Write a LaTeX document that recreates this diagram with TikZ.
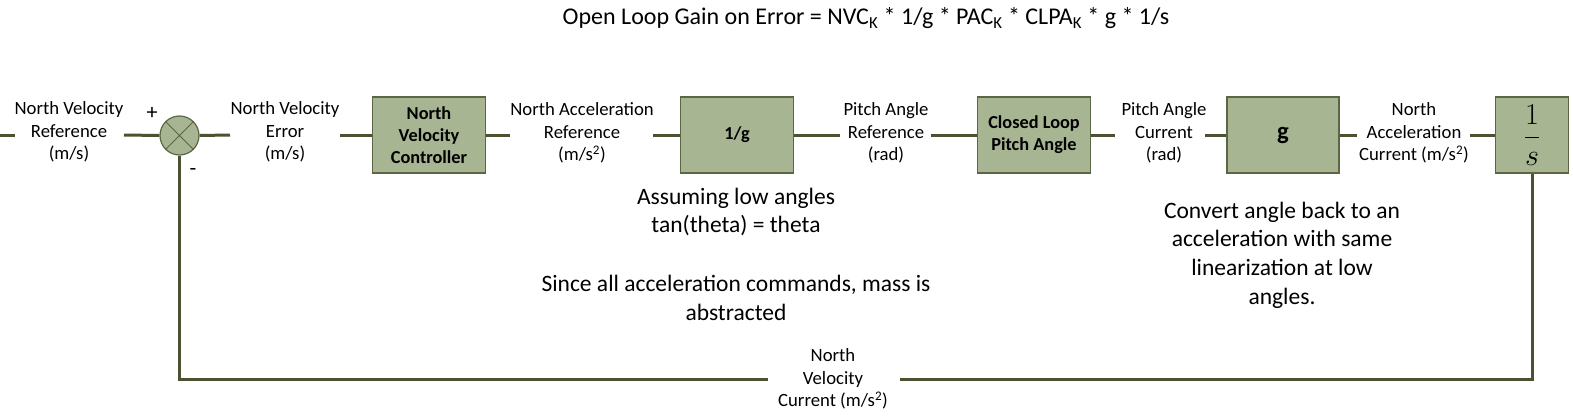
\documentclass[tikz,border=0pt]{standalone}
\usepackage{graphicx}
\usepackage{fontspec}
\setmainfont{Carlito}
\definecolor{wire}{HTML}{4B5232}
\definecolor{boxfill}{HTML}{A7B593}
\definecolor{boxline}{HTML}{5A6644}
\begin{document}
\begin{tikzpicture}[x=1pt,y=-1pt,
  wireline/.style={draw=wire,line width=3pt},
  blk/.style={draw=boxline,line width=1.2pt,fill=boxfill,minimum height=76pt,inner sep=0pt,align=center,
     font=\fontsize{18.3}{22}\selectfont\bfseries},
  lbl/.style={align=center,inner sep=0pt,font=\fontsize{18.7}{22.6}\selectfont},
  note/.style={align=center,inner sep=0pt,font=\fontsize{23.5}{28.7}\selectfont},
  sumnode/.style={circle,draw=boxline,line width=1.2pt,fill=boxfill,minimum size=39pt,inner sep=0pt}]
\useasboundingbox (0,0) rectangle (1573,415);
\node[font=\fontsize{24}{28}\selectfont,inner sep=0pt] (title) at (866,18)
  {Open Loop Gain on Error = NVC\textsubscript{K} * 1/g * PAC\textsubscript{K} * CLPA\textsubscript{K} * g * 1/s};
% blocks
\node[blk,minimum width=113pt] (nvc) at (429,135) {North\\Velocity\\Controller};
\node[blk,minimum width=113pt] (ig) at (737,135) {1/g};
\node[blk,minimum width=113pt] (clp) at (1034,135) {Closed Loop\\Pitch Angle};
\node[blk,minimum width=112pt] (g) at (1283,135) {\scalebox{1.35}{$\mathbf{g}$}};
\node[blk,minimum width=73pt] (is) at (1532,135) {\scalebox{1.75}{$\displaystyle\frac{1}{s}$}};
\node[sumnode] (sum) at (179.5,135.5) {};
\draw[boxline,line width=1pt] (sum.45) -- (sum.225) (sum.135) -- (sum.315);
\node[font=\fontsize{22}{26}\selectfont,inner sep=0pt] (plus) at (152,113) {+};
\node[font=\fontsize{22}{26}\selectfont,inner sep=0pt] (minus) at (193,172) {-};
% labels
\node[lbl] (l1) at (69,132) {North Velocity\\Reference\\(m/s)};
\node[lbl] (l2) at (285,132) {North Velocity\\Error\\(m/s)};
\node[lbl] (l3) at (582,133) {North Acceleration\\Reference\\(m/s\textsuperscript{2})};
\node[lbl] (l4) at (886,133) {Pitch Angle\\Reference\\(rad)};
\node[lbl] (l5) at (1164,133) {Pitch Angle\\Current\\(rad)};
\node[lbl] (l6) at (1414,133) {North\\Acceleration\\Current (m/s\textsuperscript{2})};
\node[lbl] (l7) at (833,379) {North\\Velocity\\Current (m/s\textsuperscript{2})};
% notes
\node[note] (n1) at (736,212) {Assuming low angles\\tan(theta) = theta};
\node[note] (n2) at (736,298) {Since all acceleration commands, mass is\\abstracted};
\node[note] (n3) at (1282,255) {Convert angle back to an\\acceleration with same\\linearization at low\\angles.};
% wires
\coordinate (start) at (0,135);
\coordinate (startend) at (15,135);
\draw[wireline] (start) -- (startend);
\coordinate (a1) at (124,135);
\draw[wireline] (a1) -- (sum.west);
\draw[wireline] (sum.east) -- (230,135) coordinate (a2);
\draw[wireline] (340,135) coordinate (a3) -- (nvc.west);
\draw[wireline] (nvc.east) -- (510,135) coordinate (a4);
\draw[wireline] (653,135) coordinate (a5) -- (ig.west);
\draw[wireline] (ig.east) -- (840,135) coordinate (a6);
\draw[wireline] (931,135) coordinate (a7) -- (clp.west);
\draw[wireline] (clp.east) -- (1115,135) coordinate (a8);
\draw[wireline] (1205,135) coordinate (a9) -- (g.west);
\draw[wireline] (g.east) -- (1357,135) coordinate (a10);
\draw[wireline] (1470,135) coordinate (a11) -- (is.west);
\coordinate (br) at (1532,379);
\coordinate (bl) at (179.5,379);
\draw[wireline] (is.south) -- (br) -- (900,379) coordinate (a12);
\draw[wireline] (768,379) coordinate (a13) -- (bl) -- (sum.south);
\end{tikzpicture}
\end{document}
